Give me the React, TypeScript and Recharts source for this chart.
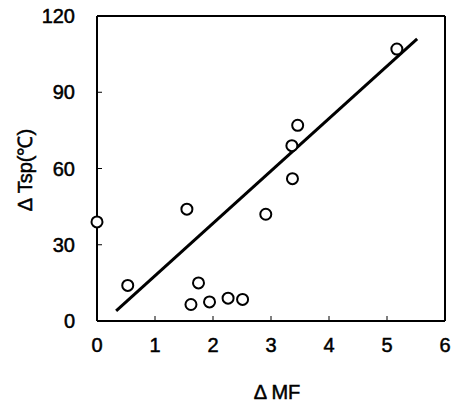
import {
  Label,
  ReferenceLine,
  Scatter,
  ScatterChart,
  XAxis,
  YAxis,
} from "recharts";

// ΔMF (x) against ΔTsp in °C (y)
const MF = [0, 0.53, 1.55, 1.75, 1.62, 1.94, 2.26, 2.51, 2.91, 3.37, 3.36, 3.46, 5.17];
const TSP = [39, 14, 44, 15, 6.5, 7.5, 9, 8.5, 42, 56, 69, 77, 107];

// regression line end points
const FIT_MF = [0.33, 5.52];
const FIT_TSP = [4, 111];

const X_TICKS = [0, 1, 2, 3, 4, 5, 6];
const Y_TICKS = [0, 30, 60, 90, 120];

const points = MF.map((x, i) => ({ x, y: TSP[i] }));
const fit = FIT_MF.map((x, i) => ({ x, y: FIT_TSP[i] }));

const FONT = "'Liberation Sans', Arial, sans-serif";
// a thin outline makes the glyphs as heavy as the scanned ones
const tickStyle = { fontSize: 20, fill: "#000", fontFamily: FONT, stroke: "#000", strokeWidth: 0.5 };

const Ring = (props: { cx?: number; cy?: number }) => (
  <circle cx={props.cx} cy={props.cy} r={5.5} fill="#fff" stroke="#000" strokeWidth={2} />
);

export default function App() {
  return (
    <div style={{ position: "absolute", left: 0, top: 0, background: "#fff" }}>
      <ScatterChart width={455} height={405} margin={{ top: 16, right: 10, bottom: 0, left: 0 }}>
        <XAxis
          type="number"
          dataKey="x"
          domain={[0, 6]}
          ticks={X_TICKS}
          height={84}
          tickSize={-5}
          tickMargin={22}
          tick={tickStyle}
          axisLine={{ stroke: "#000", strokeWidth: 2 }}
          tickLine={{ stroke: "#000", strokeWidth: 1 }}
        >
          <Label
            content={() => (
              <text
                x={277}
                y={392}
                textAnchor="middle"
                dominantBaseline="central"
                fontSize={20}
                fontFamily={FONT}
                fill="#000"
                stroke="#000"
                strokeWidth={0.5}
              >
                Δ MF
              </text>
            )}
          />
        </XAxis>
        <YAxis
          type="number"
          dataKey="y"
          domain={[0, 120]}
          ticks={Y_TICKS}
          width={97}
          tickSize={-5}
          tickMargin={27}
          tick={tickStyle}
          axisLine={{ stroke: "#000", strokeWidth: 2 }}
          tickLine={{ stroke: "#000", strokeWidth: 1 }}
        >
          <Label
            content={() => (
              <text
                x={25}
                y={170}
                transform="rotate(-90, 25, 170)"
                textAnchor="middle"
                dominantBaseline="central"
                fontSize={20}
                fontFamily={FONT}
                fill="#000"
                stroke="#000"
                strokeWidth={0.5}
              >
                Δ Tsp(℃)
              </text>
            )}
          />
        </YAxis>
        <ReferenceLine y={120} stroke="#000" strokeWidth={2} />
        <ReferenceLine x={6} stroke="#000" strokeWidth={2} />
        <Scatter
          data={fit}
          line={{ stroke: "#000", strokeWidth: 3 }}
          shape={() => <g />}
          isAnimationActive={false}
        />
        <Scatter data={points} shape={Ring} isAnimationActive={false} />
      </ScatterChart>
    </div>
  );
}
